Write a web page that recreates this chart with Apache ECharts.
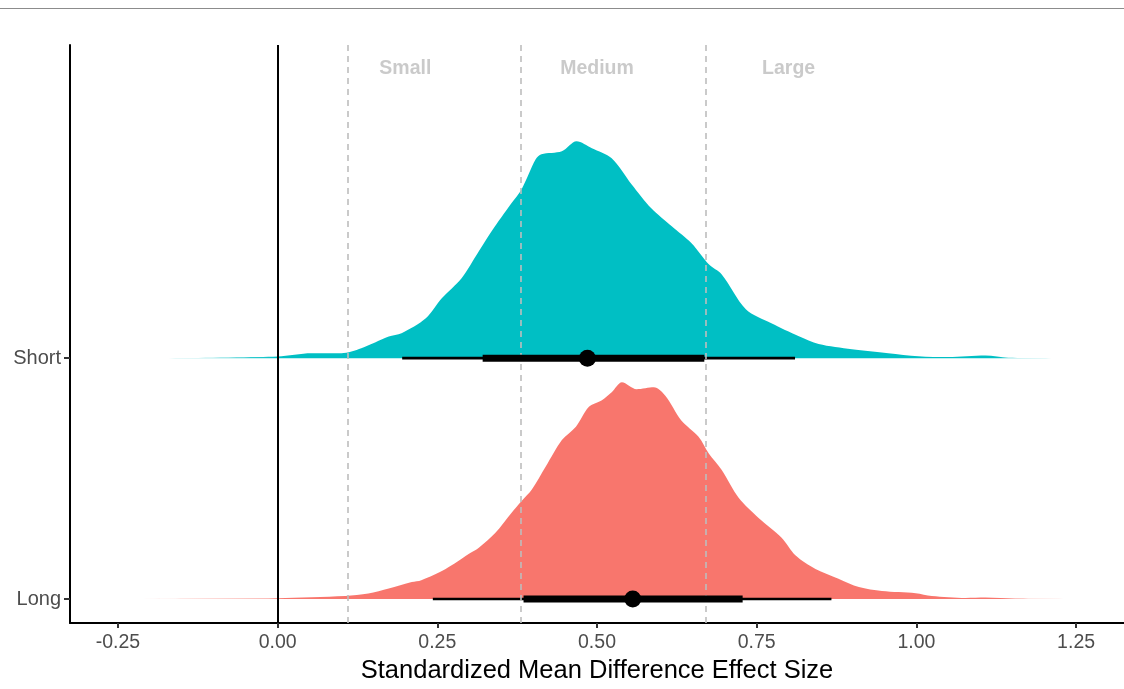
<!DOCTYPE html>
<html>
<head>
<meta charset="utf-8">
<script src="https://cdn.jsdelivr.net/npm/echarts@6/dist/echarts.min.js"></script>
<style>
  html, body { margin: 0; padding: 0; background: #ffffff; overflow: hidden; }
  #chart { width: 1124px; height: 689px; }
</style>
</head>
<body>
<div id="chart"></div>
<script>
// ---- data ----
const categories = ['Long', 'Short'];
const xTicks = [-0.25, 0.00, 0.25, 0.50, 0.75, 1.00, 1.25];

const shortEffect = [-0.252,-0.124,-0.03,0.0,0.053,0.10,0.131,0.174,0.194,0.232,0.257,0.288,0.315,0.335,0.366,0.382,0.404,0.413,0.445,0.468,0.492,0.523,0.554,0.585,0.617,0.648,0.675,0.695,0.733,0.773,0.816,0.847,0.899,0.956,1.003,1.05,1.108,1.144,1.254];
const shortDensity = [0,0.001,0.005,0.007,0.023,0.023,0.046,0.10,0.115,0.184,0.276,0.369,0.493,0.585,0.714,0.779,0.917,0.94,0.954,1.0,0.968,0.922,0.802,0.691,0.608,0.53,0.433,0.387,0.226,0.161,0.101,0.065,0.041,0.023,0.009,0.005,0.012,0.002,0];

const longEffect = [-0.222,-0.124,0.0,0.106,0.142,0.174,0.21,0.225,0.263,0.299,0.315,0.341,0.366,0.382,0.398,0.42,0.445,0.467,0.487,0.507,0.523,0.539,0.562,0.589,0.607,0.632,0.659,0.675,0.695,0.722,0.753,0.789,0.811,0.842,0.878,0.91,0.946,0.999,1.024,1.077,1.108,1.155,1.254];
const longDensity = [0,0.002,0.004,0.014,0.025,0.048,0.078,0.087,0.139,0.208,0.237,0.306,0.397,0.452,0.505,0.612,0.733,0.795,0.886,0.916,0.954,1.0,0.968,0.977,0.938,0.824,0.749,0.671,0.596,0.466,0.374,0.283,0.201,0.139,0.094,0.055,0.037,0.027,0.014,0.005,0.007,0.002,0];

// [median, 66% low, 66% high, 95% low, 95% high]
const shortInterval = [0.485, 0.321, 0.668, 0.195, 0.810];
const longInterval  = [0.556, 0.385, 0.728, 0.243, 0.867];

const thresholds = [0.11, 0.38, 0.67];
const effectLabels = ['Small', 'Medium', 'Large'];
const effectLabelX = [0.2, 0.5, 0.8];

// ---- chart ----
const slabScale = 0.9;
const FONT = '"Liberation Sans", Arial, Helvetica, sans-serif';
const colShort = '#00BFC4';
const colLong = '#F8766D';

function fadeFill(c, a, b) {
  return {
    type: 'linear', x: 0, y: 0, x2: 1, y2: 0,
    colorStops: [
      { offset: 0, color: c + '00' },
      { offset: a, color: c },
      { offset: b, color: c },
      { offset: 1, color: c + '00' }
    ]
  };
}

function slab(name, xs, ds, base, color, a, b) {
  return {
    name: name, type: 'line', z: 1,
    data: xs.map((x, i) => [x, base + slabScale * ds[i]]),
    showSymbol: false, smooth: 0.3,
    lineStyle: { width: 0 },
    areaStyle: { origin: base, color: fadeFill(color, a, b), opacity: 1 },
    silent: true
  };
}

function intervalSeries(iv, base) {
  return [
    { type: 'line', z: 4, data: [[iv[3], base], [iv[4], base]], showSymbol: false,
      lineStyle: { color: '#000', width: 2.6 }, silent: true },
    { type: 'line', z: 5, data: [[iv[1], base], [iv[2], base]], showSymbol: false,
      lineStyle: { color: '#000', width: 7, cap: 'butt' }, silent: true },
    { type: 'scatter', z: 6, data: [[iv[0], base]], symbolSize: 17,
      itemStyle: { color: '#000', opacity: 1 }, silent: true }
  ];
}

const chart = echarts.init(document.getElementById('chart'), null, { renderer: 'canvas' });

const option = {
  animation: false,
  backgroundColor: '#ffffff',
  grid: { left: 70, right: 0, top: 45, height: 585, containLabel: false },
  xAxis: {
    type: 'value', min: -0.325, max: 1.325,
    name: 'Standardized Mean Difference Effect Size',
    nameLocation: 'middle', nameGap: 34,
    nameTextStyle: { fontFamily: FONT, fontSize: 25.5, color: '#000' },
    axisLine: { show: true, onZero: false, lineStyle: { color: '#000', width: 2 } },
    axisTick: { show: true, length: 5, customValues: xTicks, lineStyle: { color: '#333', width: 2 } },
    axisLabel: { customValues: xTicks, margin: 10, fontFamily: FONT, fontSize: 19.5, color: '#4D4D4D',
      formatter: v => v.toFixed(2) },
    splitLine: { show: false }
  },
  yAxis: {
    type: 'value', min: 0.9, max: 3.3,
    axisLine: { show: true, onZero: false, lineStyle: { color: '#000', width: 2 } },
    axisTick: { show: true, length: 6, customValues: [1, 2], lineStyle: { color: '#333', width: 2 } },
    axisLabel: { customValues: [1, 2], margin: 9, fontFamily: FONT, fontSize: 20, color: '#4D4D4D',
      formatter: v => categories[Math.round(v) - 1] },
    splitLine: { show: false }
  },
  graphic: [
    { type: 'line', shape: { x1: 0, y1: 8.5, x2: 1124, y2: 8.5 },
      style: { stroke: '#8c8c8c', lineWidth: 1 }, silent: true }
  ],
  series: [
    slab('Short', shortEffect, shortDensity, 2, colShort, 0.17, 0.915),
    slab('Long', longEffect, longDensity, 1, colLong, 0.15, 0.92),
    {
      type: 'line', data: [], z: 3, silent: true,
      markLine: {
        silent: true, symbol: ['none', 'none'], label: { show: false },
        data: [{ xAxis: 0, lineStyle: { color: '#000', width: 2, type: 'solid' } }]
          .concat(thresholds.map(t => ({ xAxis: t, lineStyle: { color: '#BDBDBD', width: 1.6, type: [6, 5] } })))
      }
    },
    ...intervalSeries(shortInterval, 2),
    ...intervalSeries(longInterval, 1),
    {
      type: 'scatter', z: 7, symbolSize: 0, silent: true,
      data: effectLabelX.map((x, i) => ({ value: [x, 3.2], name: effectLabels[i] })),
      label: { show: true, position: 'inside', formatter: p => p.name,
        fontFamily: FONT, fontSize: 19.5, fontWeight: 'bold', color: '#BDBDBD' }
    }
  ]
};
chart.setOption(option);
</script>
</body>
</html>
